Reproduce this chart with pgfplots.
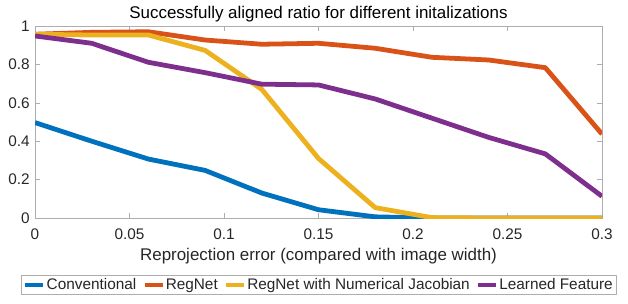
\documentclass[border=0pt]{standalone}
\usepackage{fontspec}
\setmainfont{Liberation Sans}
\usepackage{pgfplots}
\pgfplotsset{compat=1.18}
\definecolor{mblue}{rgb}{0,0.447,0.741}
\definecolor{morange}{rgb}{0.85,0.325,0.098}
\definecolor{myellow}{rgb}{0.929,0.694,0.125}
\definecolor{mpurple}{rgb}{0.494,0.184,0.556}
\definecolor{txt}{rgb}{0.15,0.15,0.15}
\begin{document}
\fontsize{15.4}{18}\selectfont
\begin{tikzpicture}
\begin{axis}[
  name=ax,
  scale only axis,
  width=567bp, height=192bp,
  xmin=0, xmax=0.3, ymin=0, ymax=1,
  xtick={0,0.05,0.1,0.15,0.2,0.25,0.3},
  xticklabels={0,0.05,0.1,0.15,0.2,0.25,0.3},
  ytick={0,0.2,0.4,0.6,0.8,1},
  yticklabels={0,0.2,0.4,0.6,0.8,1},
  tick align=inside,
  major tick length=5bp,
  axis line style={black!32},
  every tick/.style={black!32},
  tick label style={font=\fontsize{15.4}{18}\selectfont, text=txt},
  xticklabel style={anchor=base, yshift=-21bp},
  yticklabel style={anchor=east, xshift=0bp},
  title={Successfully aligned ratio for different initalizations},
  title style={font=\fontsize{17}{20}\selectfont, text=black, at={(axis description cs:0.5,1)}, anchor=base, yshift=1.5bp},
  xlabel={Reprojection error (compared with image width)},
  xlabel style={font=\fontsize{17}{20}\selectfont, text=txt, at={(axis description cs:0.5,0)}, anchor=base, yshift=-42bp},
  legend columns=4,
  legend style={at={(axis description cs:0.5,0)}, yshift=-57bp, anchor=north, draw=black!32,
    font=\fontsize{15.4}{18}\selectfont, text=txt,
    inner xsep=2bp, inner ysep=1bp, column sep=0bp,
    nodes={inner xsep=1bp, inner ysep=2bp},
    /tikz/every even column/.append style={column sep=5bp}},
  legend image code/.code={\draw[line width=4.5pt] (0bp,0bp) -- (18bp,0bp);},
  line join=round,
]
\addplot[mblue, line width=4.8pt] coordinates {
(0,0.497) (0.03,0.40) (0.06,0.307) (0.09,0.248) (0.12,0.13) (0.15,0.043) (0.18,0.006) (0.21,0) (0.24,0) (0.27,0) (0.3,0)};
\addlegendentry{Conventional}
\addplot[morange, line width=4.8pt] coordinates {
(0,0.957) (0.03,0.967) (0.06,0.97) (0.09,0.927) (0.12,0.905) (0.15,0.91) (0.18,0.884) (0.21,0.837) (0.24,0.823) (0.27,0.783) (0.3,0.437)};
\addlegendentry{RegNet}
\addplot[myellow, line width=4.8pt] coordinates {
(0,0.957) (0.03,0.953) (0.06,0.953) (0.09,0.873) (0.12,0.67) (0.15,0.31) (0.18,0.054) (0.21,0.002) (0.24,0) (0.27,0) (0.3,0)};
\addlegendentry{RegNet with Numerical Jacobian}
\addplot[mpurple, line width=4.8pt] coordinates {
(0,0.948) (0.03,0.91) (0.06,0.811) (0.09,0.757) (0.12,0.697) (0.15,0.693) (0.18,0.62) (0.21,0.52) (0.24,0.42) (0.27,0.334) (0.3,0.113)};
\addlegendentry{Learned Feature}
\end{axis}
\pgfresetboundingbox
\path ([xshift=-35bp,yshift=-86bp]ax.south west) rectangle ([xshift=26bp,yshift=26bp]ax.north east);
\end{tikzpicture}
\end{document}
